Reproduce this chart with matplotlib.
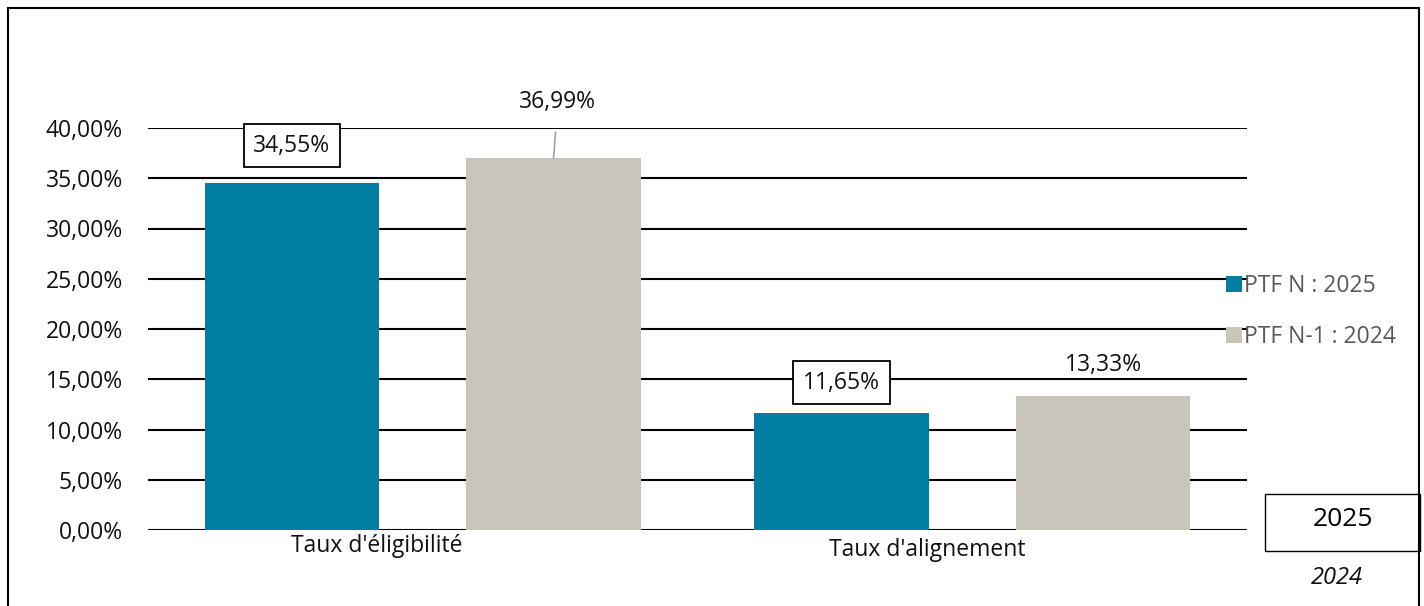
import matplotlib
matplotlib.use("Agg")
import matplotlib.pyplot as plt
from matplotlib.patches import Rectangle

plt.rcParams['font.family'] = ['Open Sans', 'DejaVu Sans']

categories = ["Taux d'éligibilité", "Taux d'alignement"]
series_names = ["PTF N : 2025", "PTF N-1 : 2024"]
values_2025 = [34.55, 11.65]
values_2024 = [36.99, 13.33]
labels_2025 = ["34,55%", "11,65%"]
labels_2024 = ["36,99%", "13,33%"]
yticks = [0, 5, 10, 15, 20, 25, 30, 35, 40]
ytick_labels = ["0,00%", "5,00%", "10,00%", "15,00%", "20,00%", "25,00%", "30,00%", "35,00%", "40,00%"]

c_n = "#017ea1"
c_n1 = "#c9c5bb"
FS = 16.5
TC = "#111111"
WT = 'normal'
W, H = 1424, 606
fig = plt.figure(figsize=(W / 100, H / 100), dpi=100)
# axes: x 148..1247, y 128(40%)..530(0%)
ax = fig.add_axes([148 / W, 1 - 530 / H, (1247 - 148) / W, (530 - 128) / H])
ax.set_xlim(-0.5, 1.5)
ax.set_ylim(0, 40)

x = [0, 1]
off = 0.238
bw = 0.317
ax.bar([i - off for i in x], values_2025, width=bw, color=c_n, zorder=3, label=series_names[0])
ax.bar([i + off for i in x], values_2024, width=bw, color=c_n1, zorder=3, label=series_names[1])

ax.set_yticks(yticks)
ax.set_yticklabels(ytick_labels, fontsize=FS, color=TC, fontweight=WT)
ax.set_xticks([])
for s in ax.spines.values():
    s.set_visible(False)
ax.tick_params(axis='y', length=0, pad=18)
ax.grid(axis='y', color='black', linewidth=1.5, zorder=1)
ax.set_axisbelow(True)

# category labels
cat_pos = [(-0.083, -1.6), (0.919, -2.0)]
for (cx, cy), name in zip(cat_pos, categories):
    ax.text(cx, cy, name, ha='center', va='center', fontsize=FS, color=TC, clip_on=False,
            fontweight=WT)

# data labels
boxprops = dict(boxstyle='square,pad=0.42', fc='white', ec='black', lw=1.3)
ax.text(0 - off, values_2025[0] + 3.7, labels_2025[0], ha='center', va='center', fontsize=FS,
        bbox=boxprops, zorder=5, fontweight=WT, color=TC)
ax.text(1 - off, values_2025[1] + 3.0, labels_2025[1], ha='center', va='center', fontsize=FS,
        bbox=boxprops, zorder=5, fontweight=WT, color=TC)
ax.annotate(labels_2024[0], xy=(0 + off, values_2024[0]), xytext=(0 + off + 0.008, 42.6),
            ha='center', va='center', fontsize=FS, annotation_clip=False, fontweight=WT,
            color=TC,
            arrowprops=dict(arrowstyle='-', color='#a0a0a0', lw=1.2, shrinkA=11, shrinkB=0))
ax.text(1 + off, values_2024[1] + 3.1, labels_2024[1], ha='center', va='center', fontsize=FS,
        fontweight=WT, color=TC)

# legend
leg = fig.legend(handles=ax.patches[:1] + ax.patches[2:3], labels=series_names,
                 loc='upper left', bbox_to_anchor=(1205 / W, 1 - 253 / H), frameon=False,
                 handlelength=0.7, handleheight=0.7, handletextpad=0.1,
                 labelspacing=1.2, labelcolor="#595959", prop={'weight': WT, 'size': FS})
leg.set_zorder(10)

# frame around figure
fig.add_artist(Rectangle((8 / W, -0.05), (1419 - 8) / W, 1 - 8 / H + 0.05, transform=fig.transFigure,
                         fill=False, ec='black', lw=1.5))

# year box
fig.text(1343 / W, 1 - 519 / H, "2025", ha='center', va='center', fontsize=19, color='black')
fig.add_artist(Rectangle((1265 / W, 1 - 551 / H), (1420 - 1265) / W, (551 - 494) / H,
                         transform=fig.transFigure, fill=False, ec='black', lw=1.0))
fig.text(1337 / W, 1 - 578 / H, "2024", ha='center', va='center', fontsize=17, style='italic',
         color=TC, fontweight=WT)

fig.savefig("out.png", dpi=100)
